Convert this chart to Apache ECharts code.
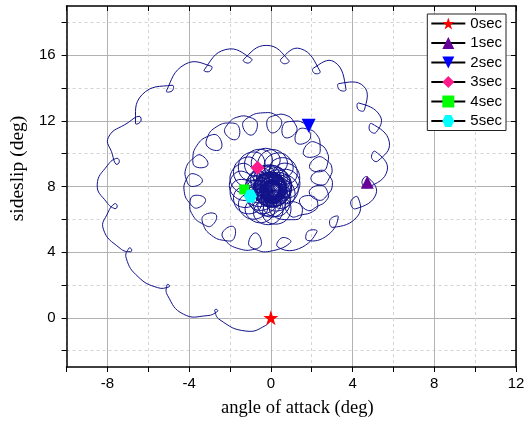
<!DOCTYPE html>
<html>
<head>
<meta charset="utf-8">
<title>Angle of attack vs sideslip</title>
<script src="https://cdn.jsdelivr.net/npm/echarts@6.0.0/dist/echarts.min.js"></script>
<style>
  html, body { margin: 0; padding: 0; background: #fff; }
  #chart { width: 529px; height: 423px; }
</style>
</head>
<body>
<div id="chart"></div>
<script>
// Trajectory of the coning motion, [angle of attack, sideslip] in degrees.
// First revolution: wide scalloped arc with small inner loops.
const outerSpiral = [
  [0,0],[-0.26,-0.47],[-1.22,-0.81],[-2.49,-0.13],
  [-2.75,0.45],[-2.65,0.51],[-2.61,0.39],
  [-3.12,0.13],[-4.28,0.22],[-5.06,1.37],
  [-5.09,2.00],[-4.99,2.01],[-4.99,1.88],
  [-5.55,1.84],[-6.5,2.5],[-7.08,3.63],
  [-6.95,4.24],[-6.82,4.18],[-6.87,4.02],
  [-7.38,4.23],[-8.2,5.4],[-7.97,6.42],
  [-7.65,6.95],[-7.52,6.82],[-7.63,6.65],
  [-8.05,7.06],[-8.5,8.1],[-7.99,9.30],
  [-7.54,9.72],[-7.42,9.50],[-7.58,9.36],
  [-7.76,9.97],[-7.95,11.0],[-6.98,11.90],
  [-6.45,12.28],[-6.37,11.96],[-6.63,11.86],
  [-6.3,13.6],
  [-4.83,14.17],[-4.83,13.83],[-5.11,13.83],
  [-4.2,15.45],
  [-2.92,15.33],[-3.01,15.01],[-3.26,15.11],
  [-2.2,16.35],
  [-0.95,15.79],[-1.11,15.52],[-1.34,15.73],
  [-0.2,16.6],
  [0.88,15.68],[0.65,15.48],[0.49,15.76],
  [1.45,16.4],
  [2.41,15.02],[2.16,14.88],[2.07,15.20],
  [3.1,15.6],
  [3.68,13.93],[3.37,13.88],[3.33,14.27],
  [4.55,14.1],
  [4.58,12.67],[4.27,12.70],[4.30,13.09],
  [5.35,12.3],
  [5.15,11.30],[4.83,11.43],[4.93,11.84],
  [5.8,10.7],
  [5.23,9.55],[4.93,9.76],[5.11,10.14],
  [5.7,9.0],
  [4.73,7.93],[4.46,8.25],[4.71,8.59],
  [5.15,7.55],
  [4.15,6.64],[3.91,7.07],[4.25,7.36],
  [4.25,6.2],
  [3.04,5.51],[2.90,5.99],[3.30,6.15],
  [2.8,5.05],
  [1.80,4.71],[1.81,5.27],[2.26,5.25],
  [1.35,4.2],
  [0.33,4.33],[0.55,4.88],[0.97,4.61],
  [-0.05,4.05]
];

// Second revolution: chain of loops, each traced top, ahead, inner, behind, top, then the outer arc.
const middleSpiral = [
  [-0.81,4.20],[-1.09,4.57],[-0.75,5.17],[-0.46,4.54],[-0.77,4.19],[-1.57,4.21],
  [-2.25,4.73],[-2.35,5.23],[-1.83,5.55],[-1.81,4.82],[-2.21,4.70],[-2.91,5.03],
  [-3.33,5.75],[-3.26,6.26],[-2.68,6.28],[-2.90,5.61],[-3.31,5.70],[-3.82,6.24],
  [-3.96,7.01],[-3.76,7.45],[-3.20,7.22],[-3.59,6.69],[-3.95,6.95],[-4.24,7.68],
  [-4.13,8.45],[-3.81,8.78],[-3.35,8.34],[-3.87,8.00],[-4.13,8.39],[-4.16,9.11],
  [-3.80,9.71],[-3.42,9.91],[-3.09,9.32],[-3.66,9.19],[-3.82,9.66],[-3.62,10.50],
  [-3.06,11.07],[-2.57,11.06],[-2.46,10.28],[-3.08,10.40],[-3.10,11.02],[-2.67,11.63],
  [-2.03,11.87],[-1.57,11.64],[-1.68,10.87],[-2.24,11.25],[-2.08,11.84],[-1.61,12.24],
  [-1.04,12.22],[-0.66,11.82],[-0.95,11.13],[-1.38,11.70],[-1.10,12.21],[-0.39,12.49],
  [0.29,12.32],[0.52,11.78],[0.04,11.27],[-0.19,12.00],[0.23,12.34],[0.75,12.34],
  [1.13,11.93],[1.24,11.33],[0.68,10.99],[0.61,11.77],[1.08,11.97],[1.58,11.88],
  [1.87,11.44],[1.87,10.82],[1.26,10.65],[1.33,11.43],[1.82,11.49],[2.25,11.15],
  [2.41,10.52],[2.28,9.90],[1.62,9.92],[1.87,10.66],[2.38,10.58],[2.74,10.13],
  [2.79,9.48],[2.53,8.93],[1.90,9.14],[2.28,9.79],[2.77,9.55],[2.99,9.11],
  [2.88,8.56],[2.54,8.09],[1.96,8.46],[2.44,8.99],[2.87,8.63],[3.01,8.08],
  [2.79,7.52],[2.36,7.16],[1.88,7.69],[2.46,8.07],[2.80,7.59],[2.71,7.14],
  [2.28,6.79],[1.79,6.55],[1.41,7.20],[2.04,7.41],[2.30,6.86],[2.05,6.47],
  [1.49,6.27],[0.98,6.19],[0.73,6.94],[1.39,6.95],[1.52,6.33],[1.22,5.98]
];

// Third revolution: overlapping petals.
const innerRosette = [
  [0.03,6.32],
  [0.17,7.33],[0.94,6.97],[0.62,5.83],[-0.34,6.05],
  [-0.05,7.29],[0.60,6.65],[0.01,5.69],[-0.84,6.27],
  [-0.26,7.33],[0.20,6.48],[-0.59,5.79],[-1.26,6.67],
  [-0.44,7.43],[-0.21,6.43],[-1.14,6.08],[-1.55,7.17],
  [-0.59,7.58],[-0.61,6.54],[-1.58,6.56],[-1.70,7.76],
  [-0.70,7.76],[-0.98,6.78],[-1.90,7.17],[-1.71,8.36],
  [-0.74,7.98],[-1.25,7.15],[-2.02,7.88],[-1.55,8.93],
  [-0.75,8.19],[-1.44,7.61],[-2.00,8.59],[-1.29,9.41],
  [-0.69,8.39],[-1.49,8.10],[-1.77,9.25],[-0.90,9.75],
  [-0.59,8.57],[-1.43,8.59],[-1.41,9.80],[-0.46,9.94],
  [-0.45,8.67],[-1.24,9.02],[-0.93,10.15],[0.02,9.92],
  [-0.30,8.72],[-0.96,9.35],[-0.39,10.31],[0.45,9.72],
  [-0.15,8.69],[-0.63,9.55],[0.16,10.25],[0.81,9.36],
  [-0.02,8.62],[-0.26,9.62],[0.65,9.98],[1.05,8.89],
  [0.08,8.50],[0.10,9.55],[1.05,9.54],[1.16,8.36],
  [0.14,8.36],[0.42,9.36],[1.32,8.98],[1.13,7.81],
  [0.14,8.21],[0.64,9.05],[1.41,8.35],[0.94,7.32],
  [0.10,8.08],[0.79,8.69],[1.34,7.74],[0.64,6.94],
  [0.03,8.00],[0.84,8.32],[1.13,7.20],[0.27,6.72],
  [-0.05,7.96],[0.80,7.96],[0.81,6.78],[-0.13,6.66]
];

// Final revolutions: circles packed around the trim point.
const coreLoops = [
  [0.07,7.72],[0.89,7.39],[0.60,6.28],[-0.32,6.53],
  [0.03,7.73],[0.72,7.11],[0.17,6.15],[-0.64,6.75],
  [-0.01,7.76],[0.50,6.90],[-0.26,6.20],[-0.88,7.08],
  [-0.03,7.80],[0.24,6.78],[-0.65,6.41],[-1.02,7.48],
  [-0.03,7.84],[-0.03,6.76],[-0.96,6.75],[-1.05,7.91],
  [-0.02,7.87],[-0.28,6.84],[-1.17,7.19],[-0.96,8.32],
  [0.00,7.88],[-0.50,7.00],[-1.26,7.67],[-0.78,8.67],
  [0.02,7.88],[-0.67,7.23],[-1.23,8.16],[-0.53,8.92],
  [0.04,7.86],[-0.77,7.51],[-1.08,8.60],[-0.22,9.06],
  [0.05,7.82],[-0.81,7.80],[-0.83,8.96],[0.10,9.06],
  [0.05,7.77],[-0.78,8.09],[-0.51,9.20],[0.39,8.93],
  [0.03,7.73],[-0.69,8.35],[-0.16,9.30],[0.63,8.70],
  [-0.02,7.70],[-0.54,8.56],[0.19,9.26],[0.80,8.39],
  [-0.07,7.69],[-0.36,8.71],[0.51,9.09],[0.87,8.03],
  [-0.13,7.70],[-0.15,8.79],[0.77,8.82],[0.84,7.67],
  [-0.19,7.74],[0.06,8.79],[0.94,8.46],[0.72,7.35],
  [-0.24,7.82],[0.26,8.72],[1.01,8.07],[0.53,7.10],
  [-0.27,7.92],[0.43,8.58],[0.99,7.68],[0.29,6.94],
  [-0.27,8.03],[0.56,8.40],[0.87,7.32],[0.02,6.89],
  [-0.24,8.14],[0.64,8.18],[0.67,7.04],[-0.24,6.96],
  [-0.17,8.24],[0.68,7.93],[0.43,6.84],[-0.46,7.11],
  [-0.07,8.30],[0.66,7.69],[0.15,6.75],[-0.63,7.35],
  [0.04,8.33],[0.58,7.46],[-0.14,6.76],[-0.72,7.63],
  [0.15,8.31],[0.46,7.27],[-0.40,6.88],[-0.74,7.94],
  [0.26,8.24],[0.29,7.14],[-0.62,7.10],[-0.68,8.23],
  [0.35,8.13],[0.10,7.07],[-0.77,7.38],[-0.55,8.48],
  [0.40,7.99],[-0.09,7.07],[-0.85,7.70],[-0.36,8.66],
  [0.42,7.83],[-0.28,7.14],[-0.84,8.03],[-0.14,8.76],
  [0.39,7.66],[-0.44,7.28],[-0.75,8.34],[0.09,8.76],
  [0.33,7.51],[-0.56,7.47],[-0.60,8.60],[0.31,8.67],
  [0.22,7.40],[-0.63,7.69],[-0.38,8.78],[0.49,8.50],
  [0.10,7.32],[-0.64,7.93],[-0.14,8.87],[0.62,8.27],
  [-0.05,7.30],[-0.60,8.17],[0.11,8.87],[0.69,8.00],
  [-0.19,7.34],[-0.50,8.37],[0.34,8.77],[0.68,7.72],
  [-0.33,7.43],[-0.36,8.53],[0.54,8.58],[0.60,7.46],
  [-0.43,7.57],[-0.19,8.64],[0.68,8.34],[0.46,7.25],
  [-0.49,7.75],[0.00,8.68],[0.76,8.05],[0.27,7.10],
  [-0.50,7.95],[0.20,8.64],[0.76,7.75],[0.06,7.04],
  [-0.46,8.14],[0.37,8.53],[0.69,7.47],[-0.15,7.06],
  [-0.38,8.31],[0.51,8.36],[0.55,7.23],[-0.35,7.16],
  [-0.12,8.22],[0.61,7.98],[0.42,7.07],[-0.32,7.31],
  [0.01,8.27],[0.64,7.77],[0.23,6.99],[-0.39,7.49],
  [0.14,8.27],[0.60,7.56],[0.04,6.99],[-0.43,7.70],
  [0.27,8.22],[0.52,7.38],[-0.15,7.06],[-0.40,7.90],
  [0.37,8.12],[0.40,7.25],[-0.30,7.20],[-0.34,8.07],
  [0.44,7.99],[0.26,7.16],[-0.41,7.39],[-0.23,8.22],
  [0.47,7.85],[0.10,7.14],[-0.46,7.60],[-0.10,8.31],
  [0.47,7.70],[-0.05,7.18],[-0.46,7.82],[0.05,8.34],
  [0.43,7.57],[-0.18,7.28],[-0.41,8.03],[0.20,8.32],
  [0.36,7.46],[-0.27,7.42],[-0.31,8.21],[0.33,8.25],
  [0.27,7.38],[-0.33,7.58],[-0.17,8.33],[0.43,8.13],
  [0.17,7.35],[-0.34,7.76],[-0.01,8.39],[0.50,7.98],
  [0.07,7.35],[-0.31,7.93],[0.15,8.39],[0.53,7.82],
  [-0.03,7.39],[-0.24,8.07],[0.31,8.33],[0.51,7.65],
  [-0.10,7.47],[-0.13,8.17],[0.43,8.21],[0.46,7.51],
  [-0.15,7.57],[-0.01,8.23],[0.52,8.05],[0.38,7.39],
  [-0.18,7.68],[0.12,8.24],[0.57,7.87],[0.27,7.31],
  [-0.17,7.79],[0.24,8.20],[0.57,7.69],[0.16,7.28],
  [-0.14,7.88],[0.34,8.11],[0.52,7.52],[0.04,7.29],
  [-0.09,7.96],[0.41,7.99],[0.43,7.38],[-0.06,7.34]
];

// Time stamps marked along the trajectory.
const markerNames = ['0sec', '1sec', '2sec', '3sec', '4sec', '5sec'];
const markerAoa = [0, 4.72, 1.85, -0.65, -1.3, -1.0];
const markerSideslip = [0, 8.26, 11.7, 9.14, 7.82, 7.4];

// Axis ticks and labels.
const xTickLabels = [-8, -4, 0, 4, 8, 12];
const yTickValues = [-2, 0, 2, 4, 6, 8, 10, 12, 14, 16, 18];
const yTickLabels = [0, 4, 8, 12, 16];

// Marker appearance, one entry per time stamp.
const STAR = 'path://M50,0 L61.8,35.4 L99,35.4 L69,57.3 L80.4,92.7 L50,70.8 L19.6,92.7 L31,57.3 L1,35.4 L38.2,35.4 Z';
const HEXAGON = 'path://M25,0 L75,0 L100,50 L75,100 L25,100 L0,50 Z';
const markerLook = [
  { symbol: STAR, size: 15, color: '#ff0000', rotate: 0 },
  { symbol: 'triangle', size: 13, color: '#660099', rotate: 0 },
  { symbol: 'triangle', size: 14, color: '#0000ff', rotate: 180 },
  { symbol: 'diamond', size: 14, color: '#ff1a8c', rotate: 0 },
  { symbol: 'rect', size: 10, color: '#00ff00', rotate: 0 },
  { symbol: HEXAGON, size: 13, color: '#00ffff', rotate: 0 }
];

const SANS = '"Liberation Sans", Arial, sans-serif';
const SERIF = '"Liberation Serif", "Times New Roman", serif';
const MAJOR_GRID = '#b2b2b2';
const MINOR_GRID = '#d4d4d4';
const NONE = 'rgba(0,0,0,0)';
const CURVE_COLOR = '#12128a';
const SMOOTH = 0.5;

const trajectory = outerSpiral.concat(middleSpiral, innerRosette, coreLoops);

// Each sample draws the smooth piece of curve up to the next sample,
// with tangents taken from its neighbours (no clamping, so loops stay round).
function renderSegment(params, api) {
  const n = trajectory.length;
  const i = params.dataIndex;
  if (i >= n - 1) return null;
  const at = k => api.coord(trajectory[Math.max(0, Math.min(n - 1, k))]);
  const p0 = at(i - 1), p1 = at(i), p2 = at(i + 1), p3 = at(i + 2);
  const dist = (a, b) => Math.hypot(a[0] - b[0], a[1] - b[1]);
  const d01 = dist(p0, p1), d12 = dist(p1, p2), d23 = dist(p2, p3);
  const r1 = d01 + d12 > 0 ? d12 / (d01 + d12) : 0;
  const r2 = d12 + d23 > 0 ? d12 / (d12 + d23) : 0;
  return {
    type: 'bezierCurve',
    shape: {
      x1: p1[0], y1: p1[1],
      x2: p2[0], y2: p2[1],
      cpx1: p1[0] + (p2[0] - p0[0]) * SMOOTH * r1,
      cpy1: p1[1] + (p2[1] - p0[1]) * SMOOTH * r1,
      cpx2: p2[0] - (p3[0] - p1[0]) * SMOOTH * r2,
      cpy2: p2[1] - (p3[1] - p1[1]) * SMOOTH * r2
    },
    style: { stroke: CURVE_COLOR, lineWidth: 1, fill: null }
  };
}

const markerSeries = markerNames.map((name, i) => ({
  name: name,
  type: 'line',
  data: [[markerAoa[i], markerSideslip[i]]],
  symbol: markerLook[i].symbol,
  symbolSize: markerLook[i].size,
  symbolRotate: markerLook[i].rotate,
  showSymbol: true,
  itemStyle: { color: markerLook[i].color },
  lineStyle: { color: '#000', width: 1 },
  z: 4,
  silent: true
}));

const chart = echarts.init(document.getElementById('chart'), null, { renderer: 'canvas' });

const isLabelled = (v, list) => list.some(t => Math.abs(t - v) < 1e-6);

chart.setOption({
  animation: false,
  backgroundColor: '#fff',
  grid: { left: 65, right: 13, top: 6, bottom: 55 },
  legend: {
    data: markerNames,
    orient: 'vertical',
    right: 23,
    top: 14,
    itemWidth: 34,
    itemHeight: 15,
    itemGap: 4.5,
    padding: [2, 4, 2, 3],
    borderColor: '#222',
    borderWidth: 1,
    backgroundColor: '#fff',
    selectedMode: false,
    textStyle: { fontFamily: SANS, fontSize: 15, color: '#000' }
  },
  xAxis: [
    {
      type: 'value', position: 'bottom', min: -10, max: 12, interval: 2,
      axisLine: { show: true, onZero: false, lineStyle: { color: '#000', width: 1.5 } },
      axisTick: { show: true, inside: false, length: 5, lineStyle: { color: '#000', width: 1 } },
      axisLabel: {
        formatter: v => (isLabelled(v, xTickLabels) ? String(Math.round(v)) : ''),
        color: '#000', fontFamily: SANS, fontSize: 15, margin: 9,
        showMinLabel: true, showMaxLabel: true
      },
      splitLine: { show: true, lineStyle: { color: [NONE, MAJOR_GRID], width: 1 } },
      name: 'angle of attack (deg)',
      nameLocation: 'middle',
      nameGap: 32,
      nameTextStyle: { fontFamily: SERIF, fontSize: 18.5, color: '#000', padding: [0, 0, 0, 12] }
    },
    {
      type: 'value', position: 'top', min: -10, max: 12, interval: 2,
      axisLine: { show: true, onZero: false, lineStyle: { color: '#000', width: 1.5 } },
      axisTick: { show: true, inside: true, length: 5, lineStyle: { color: '#000', width: 1 } },
      axisLabel: { show: false },
      splitLine: { show: true, lineStyle: { color: [MINOR_GRID, NONE], width: 1, type: [3, 3] } }
    }
  ],
  yAxis: [
    {
      type: 'value', position: 'left', min: -3, max: 19,
      axisLine: { show: true, onZero: false, lineStyle: { color: '#000', width: 1.5 } },
      axisTick: { show: true, inside: false, length: 5, customValues: yTickValues, lineStyle: { color: '#000', width: 1 } },
      axisLabel: { customValues: yTickLabels, color: '#000', fontFamily: SANS, fontSize: 15, margin: 11 },
      splitLine: { show: true, lineStyle: { color: [NONE, MAJOR_GRID], width: 1 } },
      name: 'sideslip (deg)',
      nameLocation: 'middle',
      nameGap: 30,
      nameTextStyle: { fontFamily: SERIF, fontSize: 19.5, color: '#000', padding: [0, 0, 0, 36] }
    },
    {
      type: 'value', position: 'right', min: -3, max: 19,
      axisLine: { show: true, onZero: false, lineStyle: { color: '#000', width: 1.5 } },
      axisTick: { show: true, inside: true, length: 5, customValues: yTickValues, lineStyle: { color: '#000', width: 1 } },
      axisLabel: { show: false },
      splitLine: { show: true, lineStyle: { color: [MINOR_GRID, NONE], width: 1, type: [3, 3] } }
    }
  ],
  series: [
    {
      name: 'trajectory',
      type: 'custom',
      data: trajectory,
      encode: { x: 0, y: 1 },
      renderItem: renderSegment,
      clip: true,
      z: 2,
      silent: true
    }
  ].concat(markerSeries)
});
</script>
</body>
</html>
